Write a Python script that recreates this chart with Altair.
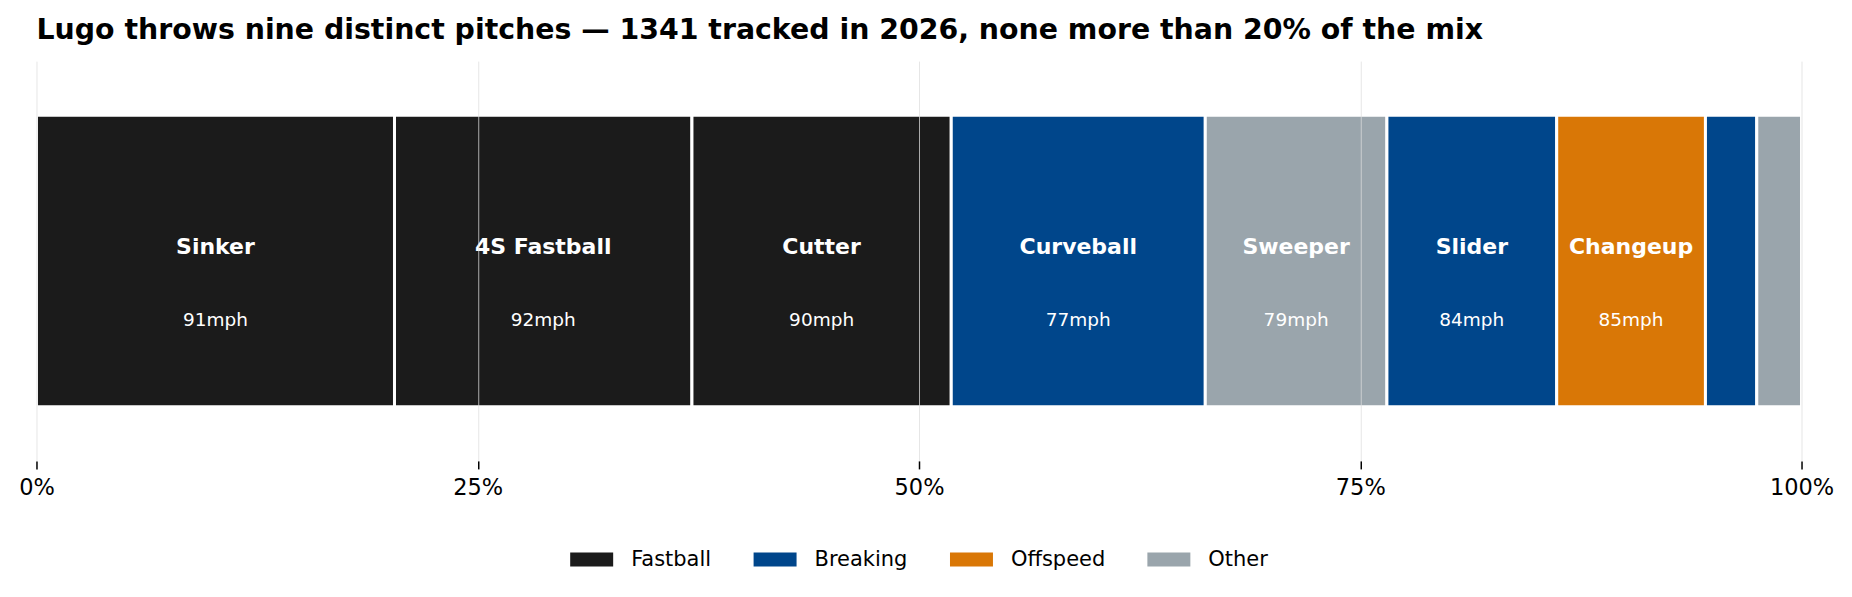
import altair as alt
import pandas as pd

# Pitch mix, in the order the pitches are stacked left to right
pitches = ["Sinker", "4S Fastball", "Cutter", "Curveball", "Sweeper",
           "Slider", "Changeup", "Knuckle Curve", "Slurve"]
groups = ["Fastball", "Fastball", "Fastball", "Breaking", "Other",
          "Breaking", "Offspeed", "Breaking", "Other"]
counts = [272, 226, 197, 193, 138, 129, 113, 39, 34]
velocity = [91, 92, 90, 77, 79, 84, 85, None, None]

group_order = ["Fastball", "Breaking", "Offspeed", "Other"]
group_colors = ["#1b1b1b", "#00468b", "#d97706", "#9aa5ac"]

total = sum(counts)
df = pd.DataFrame({"pitch": pitches, "group": groups, "count": counts, "mph": velocity})
df["share"] = df["count"] / total
df["end"] = df["share"].cumsum()
df["start"] = df["end"] - df["share"]
df["mid"] = (df["start"] + df["end"]) / 2
df["row"] = "mix"
df["mph_label"] = df["mph"].apply(lambda v: "" if pd.isna(v) else f"{int(v)}mph")
df["show"] = df["share"] >= 0.05

FONT = "DejaVu Sans"

x_scale = alt.Scale(domain=[0, 1], nice=False, zero=True)
x_axis = alt.Axis(format=".0%", values=[0, 0.25, 0.5, 0.75, 1],
                  grid=True, gridColor="#dddddd", gridOpacity=0.75,
                  domain=False, tickColor="#000000", tickSize=8,
                  tickWidth=1.5, labelFontSize=22.5, labelColor="#000000",
                  labelFont=FONT, labelPadding=8, labelFlush=False, zindex=1)
y_enc = alt.Y("row:N", axis=None, scale=alt.Scale(paddingInner=0, paddingOuter=0.186))

bars = alt.Chart(df).mark_bar(stroke="white", strokeWidth=3).encode(
    x=alt.X("start:Q", scale=x_scale, title=None, axis=x_axis),
    x2="end:Q",
    y=y_enc,
    color=alt.Color("group:N",
                    scale=alt.Scale(domain=group_order, range=group_colors),
                    legend=alt.Legend(title=None, orient="none", direction="horizontal",
                                      legendX=534, legendY=477,
                                      symbolType="M-1,-0.326H1V0.326H-1Z",
                                      symbolSize=1849, symbolStrokeWidth=0,
                                      symbolOpacity=1, labelFontSize=21,
                                      labelFont=FONT, labelColor="#000000",
                                      labelOffset=18, columnPadding=41.5)),
    tooltip=["pitch:N", "group:N", "count:Q", alt.Tooltip("share:Q", format=".1%")],
)

names = alt.Chart(df).transform_filter("datum.show").mark_text(
    color="white", fontWeight="bold", fontSize=22, font=FONT, dy=-14.5
).encode(
    x=alt.X("mid:Q", scale=x_scale, title=None, axis=x_axis),
    y=y_enc,
    text="pitch:N",
)

speeds = alt.Chart(df).transform_filter("datum.show").mark_text(
    color="white", fontSize=18.5, font=FONT, dy=59.5
).encode(
    x=alt.X("mid:Q", scale=x_scale, title=None, axis=x_axis),
    y=y_enc,
    text="mph_label:N",
)

chart = alt.layer(bars, names, speeds).properties(
    width=1766,
    height=400,
    padding={"left": 18.5, "right": 17.5, "top": 15, "bottom": 10},
    title=alt.Title("Lugo throws nine distinct pitches \u2014 1341 tracked in 2026, none more than 20% of the mix",
                    anchor="start", frame="group", fontSize=28.4, fontWeight="bold", font=FONT,
                    color="#000000", offset=16),
).configure(font=FONT).configure_view(strokeWidth=0, stroke=None)

chart.save("out.html", embed_options={"renderer": "svg", "actions": False})
